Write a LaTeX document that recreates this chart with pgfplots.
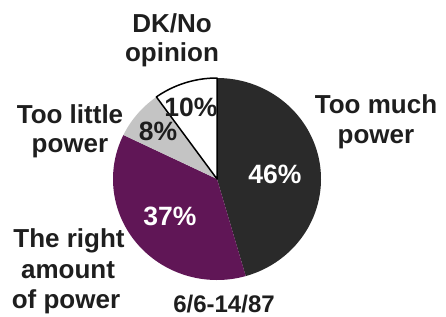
\documentclass[border=0pt]{standalone}
\usepackage{pgfplots}
\pgfplotsset{compat=1.18}
\usepackage{pgfplotstable}
\usepackage{fontspec}
\setmainfont{Liberation Sans}
\definecolor{darkslice}{RGB}{42,42,42}
\definecolor{purpleslice}{RGB}{96,22,86}
\definecolor{grayslice}{RGB}{196,196,196}
\definecolor{txt}{RGB}{30,30,30}
\newcommand{\lbl}{\fontsize{26bp}{30bp}\selectfont\bfseries}
\newcommand{\pct}{\fontsize{26.5bp}{30bp}\selectfont\bfseries}

\pgfplotstableread{
label value
Toomuch 46
Right 37
Toolittle 8
DK 10
}\piedata

\pgfplotstablegetelem{0}{value}\of\piedata \let\vA\pgfplotsretval
\pgfplotstablegetelem{1}{value}\of\piedata \let\vB\pgfplotsretval
\pgfplotstablegetelem{2}{value}\of\piedata \let\vC\pgfplotsretval
\pgfplotstablegetelem{3}{value}\of\piedata \let\vD\pgfplotsretval
\pgfmathsetmacro\tot{\vA+\vB+\vC+\vD}
\pgfmathsetmacro\unit{360/\tot}
\pgfmathsetmacro\aA{90}
\pgfmathsetmacro\aB{\aA-\unit*\vA}
\pgfmathsetmacro\aC{\aB-\unit*\vB}
\pgfmathsetmacro\aD{\aC-\unit*\vC}
\pgfmathsetmacro\aE{\aD-\unit*\vD}

\begin{document}
\begin{tikzpicture}
\begin{axis}[
  x=1bp, y=1bp, xmin=0, xmax=446, ymin=0, ymax=316,
  hide axis, clip=false, scale only axis,
]
\addplot[draw=none, fill=darkslice, domain=\aB:\aA, samples=90, variable=\t]
  ({217+104*cos(\t)},{137+101*sin(\t)}) -- (axis cs:217,137) -- cycle;
\addplot[draw=none, fill=purpleslice, domain=\aC:\aB, samples=90, variable=\t]
  ({217+104*cos(\t)},{137+101*sin(\t)}) -- (axis cs:217,137) -- cycle;
\addplot[draw=none, fill=grayslice, domain=\aD:\aC, samples=30, variable=\t]
  ({217+104*cos(\t)},{137+101*sin(\t)}) -- (axis cs:217,137) -- cycle;
\addplot[draw=black, line width=1.5pt, line join=round, fill=white, domain=\aE:\aD, samples=30, variable=\t]
  ({217+104*cos(\t)},{137+101*sin(\t)}) -- (axis cs:217,137) -- cycle;

% percentages
\node[anchor=base, inner sep=0, text=white, font=\pct] at (axis cs:275,133) {46\%};
\node[anchor=base, inner sep=0, text=white, font=\pct] at (axis cs:170,91) {37\%};
\node[anchor=base, inner sep=0, text=txt, font=\pct] at (axis cs:158,176) {8\%};
\node[anchor=base, inner sep=0, text=txt, font=\pct] at (axis cs:191,200) {10\%};

% category labels
\node[anchor=base, inner sep=0, text=txt, font=\lbl] at (axis cs:172,284) {DK/No};
\node[anchor=base, inner sep=0, text=txt, font=\lbl] at (axis cs:172,255) {opinion};
\node[anchor=base, inner sep=0, text=txt, font=\lbl] at (axis cs:376,203) {Too much};
\node[anchor=base, inner sep=0, text=txt, font=\lbl] at (axis cs:376,173) {power};
\node[anchor=base, inner sep=0, text=txt, font=\lbl] at (axis cs:70,193) {Too little};
\node[anchor=base, inner sep=0, text=txt, font=\lbl] at (axis cs:70,164) {power};
\node[anchor=base, inner sep=0, text=txt, font=\lbl] at (axis cs:69,69) {The right};
\node[anchor=base, inner sep=0, text=txt, font=\lbl] at (axis cs:68,38) {amount};
\node[anchor=base, inner sep=0, text=txt, font=\lbl] at (axis cs:66,8) {of power};
\node[anchor=base, inner sep=0, text=txt, font=\fontsize{24bp}{28bp}\selectfont\bfseries] at (axis cs:224,4) {6/6-14/87};
\end{axis}
\pgfresetboundingbox
\useasboundingbox (current axis.south west) rectangle (current axis.north east);
\end{tikzpicture}
\end{document}
